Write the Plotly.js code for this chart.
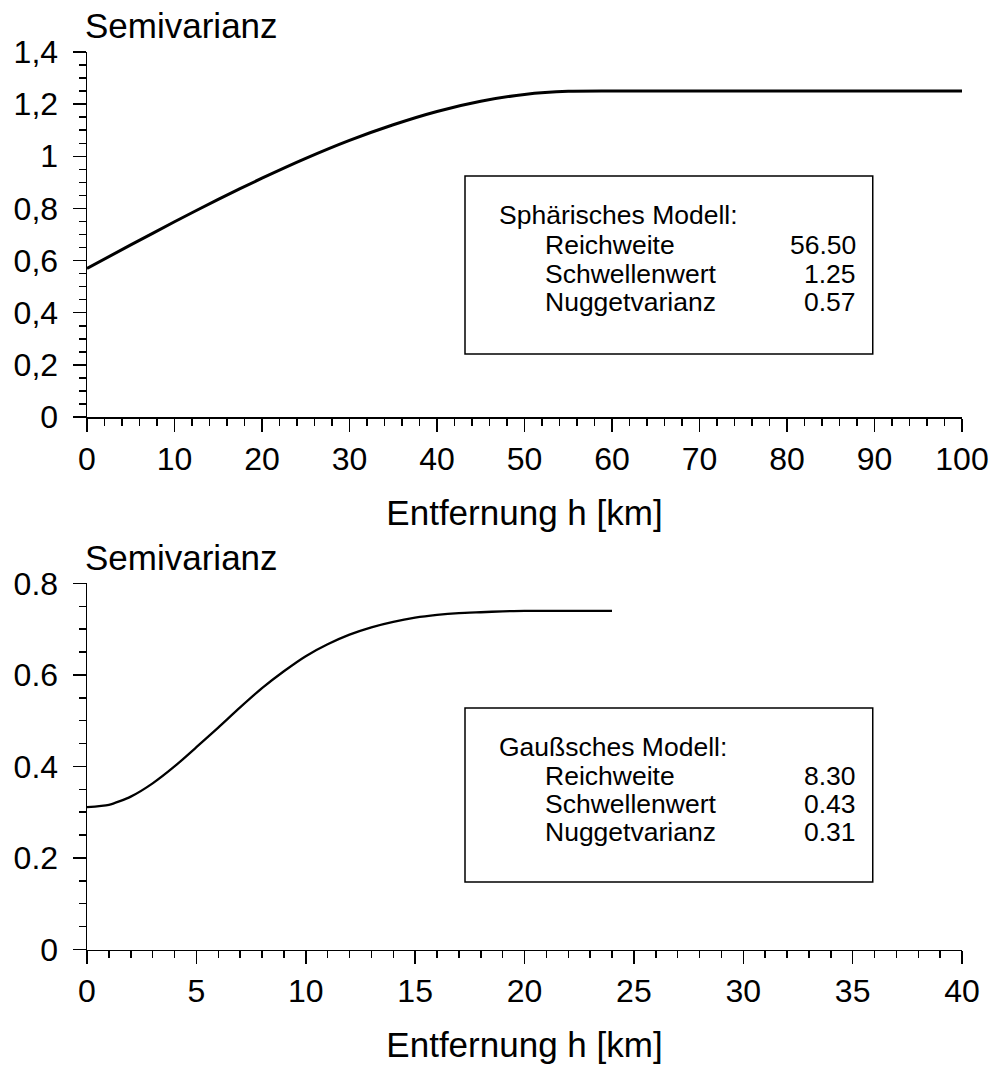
<!DOCTYPE html>
<html>
<head>
<meta charset="utf-8">
<script src="https://cdn.plot.ly/plotly-3.0.1.min.js"></script>
<style>
html,body{margin:0;padding:0;background:#fff;}
#chart{width:995px;height:1068px;}
</style>
</head>
<body>
<div id="chart"></div>
<script>
// ---- Data ----
// Top panel: spherical model
const sphH = [0, 5, 10, 15, 20, 25, 30, 35, 40, 45, 50, 55, 60, 70, 80, 90, 100];
const sphGamma = [0.57, 0.66, 0.749, 0.835, 0.916, 0.992, 1.061, 1.121, 1.172, 1.211, 1.237, 1.249, 1.25, 1.25, 1.25, 1.25, 1.25];
const sphTickVals = [0, 0.2, 0.4, 0.6, 0.8, 1.0, 1.2, 1.4];
const sphTickText = ['0', '0,2', '0,4', '0,6', '0,8', '1', '1,2', '1,4'];
const sphParamNames = ['Reichweite', 'Schwellenwert', 'Nuggetvarianz'];
const sphParamValues = ['56.50', '1.25', '0.57'];
const sphTitle = 'Sphärisches Modell:';

// Bottom panel: Gaussian model
const gauH = [0, 1, 2, 3, 4, 5, 6, 7, 8, 9, 10, 11, 12, 13, 14, 15, 16, 17, 18, 19, 20, 21, 22, 23, 24];
const gauGamma = [0.311, 0.316, 0.334, 0.363, 0.400, 0.442, 0.485, 0.529, 0.571, 0.608, 0.641, 0.667, 0.688, 0.704, 0.716, 0.725, 0.731, 0.735, 0.737, 0.739, 0.740, 0.740, 0.740, 0.740, 0.740];
const gauTickVals = [0, 0.2, 0.4, 0.6, 0.8];
const gauTickText = ['0', '0.2', '0.4', '0.6', '0.8'];
const gauParamNames = ['Reichweite', 'Schwellenwert', 'Nuggetvarianz'];
const gauParamValues = ['8.30', '0.43', '0.31'];
const gauTitle = 'Gaußsches Modell:';

const yTitle = 'Semivarianz';
const xTitle = 'Entfernung h [km]';

// ---- Styling ----
const FONT = 'Liberation Sans, Arial, Helvetica, sans-serif';
const TICKFONT = {family: FONT, size: 32, color: '#000'};
const TITLEFONT = {family: FONT, size: 35, color: '#000'};
const BOXFONT = {family: FONT, size: 26.5, color: '#000'};

function axisBase() {
  return {
    showgrid: false, zeroline: false, showline: true,
    linecolor: '#000', linewidth: 1.5,
    ticks: 'outside', ticklen: 13, tickwidth: 1.5, tickcolor: '#000',
    tickfont: TICKFONT, fixedrange: true
  };
}

const traces = [
  {x: sphH, y: sphGamma, xaxis: 'x', yaxis: 'y', type: 'scatter', mode: 'lines',
   line: {color: '#000', width: 3, shape: 'spline', smoothing: 0.6}, hoverinfo: 'skip'},
  {x: gauH, y: gauGamma, xaxis: 'x2', yaxis: 'y2', type: 'scatter', mode: 'lines',
   line: {color: '#000', width: 2.3, shape: 'spline', smoothing: 0.6}, hoverinfo: 'skip'}
];

const topDom = [1 - 417 / 1068, 1 - 52 / 1068];
const botDom = [1 - 949.5 / 1068, 1 - 583.4 / 1068];

const minorX = (d) => ({tickmode: 'linear', tick0: 0, dtick: d, ticks: 'outside', ticklen: 7, tickwidth: 1.5, tickcolor: '#000', showgrid: false});

const layout = {
  width: 995, height: 1068,
  margin: {l: 87, r: 33, t: 0, b: 0},
  paper_bgcolor: '#fff', plot_bgcolor: 'rgba(0,0,0,0)',
  showlegend: false,
  font: {family: FONT, color: '#000'},
  xaxis: Object.assign(axisBase(), {
    domain: [0, 1], anchor: 'y', range: [0, 100], tickmode: 'linear', tick0: 0, dtick: 10,
    minor: minorX(2),
    title: {text: xTitle, font: TITLEFONT, standoff: 24}
  }),
  yaxis: Object.assign(axisBase(), {
    domain: topDom, anchor: 'x', range: [0, 1.4], tickmode: 'array',
    tickvals: sphTickVals, ticktext: sphTickText, ticklabelstandoff: 8,
    minor: minorX(0.05)
  }),
  xaxis2: Object.assign(axisBase(), {
    domain: [0, 1], anchor: 'y2', range: [0, 40], tickmode: 'linear', tick0: 0, dtick: 5,
    minor: minorX(1),
    title: {text: xTitle, font: TITLEFONT, standoff: 24}
  }),
  yaxis2: Object.assign(axisBase(), {
    domain: botDom, anchor: 'x2', range: [0, 0.8], tickmode: 'array',
    tickvals: gauTickVals, ticktext: gauTickText, ticklabelstandoff: 8,
    minor: minorX(0.05)
  }),
  shapes: [
    {type: 'rect', xref: 'x domain', yref: 'y domain', x0: 0.432, x1: 0.898, y0: 0.1726, y1: 0.660,
     line: {color: '#000', width: 1.5}, fillcolor: 'rgba(0,0,0,0)'},
    {type: 'rect', xref: 'x2 domain', yref: 'y2 domain', x0: 0.432, x1: 0.898, y0: 0.1844, y1: 0.6596,
     line: {color: '#000', width: 1.5}, fillcolor: 'rgba(0,0,0,0)'}
  ],
  annotations: []
};

// axis titles "Semivarianz"
layout.annotations.push({text: yTitle, xref: 'paper', yref: 'paper', x: 0.108, y: 1 - 25 / 1068,
  xanchor: 'center', yanchor: 'middle', showarrow: false, font: TITLEFONT});
layout.annotations.push({text: yTitle, xref: 'paper', yref: 'paper', x: 0.108, y: 1 - 557 / 1068,
  xanchor: 'center', yanchor: 'middle', showarrow: false, font: TITLEFONT});

// parameter boxes
function addBox(xr, yr, title, names, values, rowsY) {
  layout.annotations.push({text: title, xref: xr, yref: yr, x: 0.4686, y: rowsY[0],
    xanchor: 'left', yanchor: 'middle', showarrow: false, font: BOXFONT});
  names.forEach((n, i) => {
    layout.annotations.push({text: n, xref: xr, yref: yr, x: 0.5211, y: rowsY[i + 1],
      xanchor: 'left', yanchor: 'middle', showarrow: false, font: BOXFONT});
    layout.annotations.push({text: values[i], xref: xr, yref: yr, x: 0.8811, y: rowsY[i + 1],
      xanchor: 'right', yanchor: 'middle', showarrow: false, font: BOXFONT});
  });
}
addBox('x domain', 'y domain', sphTitle, sphParamNames, sphParamValues,
  [(417 - 215) / 365, (417 - 245) / 365, (417 - 274) / 365, (417 - 302) / 365]);
addBox('x2 domain', 'y2 domain', gauTitle, gauParamNames, gauParamValues,
  [(949.5 - 747) / 366.1, (949.5 - 776) / 366.1, (949.5 - 804) / 366.1, (949.5 - 832) / 366.1]);

Plotly.newPlot('chart', traces, layout, {displayModeBar: false, staticPlot: true});
</script>
</body>
</html>
